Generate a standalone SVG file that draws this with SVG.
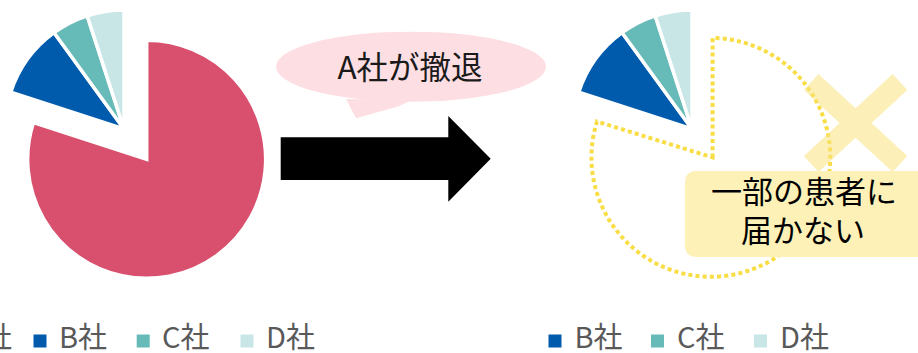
<svg xmlns="http://www.w3.org/2000/svg" width="918" height="353" viewBox="0 0 918 353">
  <style>
    .slice { stroke: #ffffff; stroke-width: 3.5; stroke-linejoin: miter; }
    .a { fill: #D94F6E; }
    .b { fill: #005BAC; }
    .c { fill: #66BBB8; }
    .d { fill: #C8E6E6; }
    .txt { font-family: "Noto Sans CJK JP", "Noto Sans", sans-serif; }
    .legend { font-family: "Noto Sans CJK JP", "Noto Sans", sans-serif; font-size: 29px; fill: #595959; }
    .dots { fill: none; stroke: #F8DD45; stroke-width: 4; stroke-dasharray: 4 3.2; }
  </style>
  <defs>
    <g id="bcd">
      <path class="slice b" d="M0,0 L-113.2,-36.8 A119,119 0 0 1 -69.9,-96.3 Z"/>
      <path class="slice c" d="M0,0 L-69.9,-96.3 A119,119 0 0 1 -36.8,-113.2 Z"/>
      <path class="slice d" d="M0,0 L-36.8,-113.2 A119,119 0 0 1 0,-119 Z"/>
    </g>
  </defs>

  <!-- Left pie chart -->
  <g id="pie-left">
    <path class="slice a" d="M146.7,159.3 L146.7,40.3 A119,119 0 1 1 33.5,122.5 Z"/>
    <use href="#bcd" transform="translate(124,129)"/>
  </g>

  <!-- Speech bubble -->
  <g id="bubble">
    <ellipse cx="411" cy="66.7" rx="135" ry="35" fill="#FDDFE3"/>
    <polygon points="346,99 356,118.3 398,106.5 412,100" fill="#FDDFE3"/>
    <text class="txt" x="410" y="78.5" font-size="31.5" text-anchor="middle" fill="#1a1a1a">A社が撤退</text>
  </g>

  <!-- Arrow -->
  <g id="arrow">
    <polygon points="280.7,137.3 448.3,137.3 448.3,116 490.7,158.7 448.3,201.7 448.3,180 280.7,180" fill="#000000"/>
  </g>

  <!-- Right pie chart -->
  <g id="pie-right">
    <use href="#bcd" transform="translate(692,129)"/>
    <path class="dots" d="M712.6,157.4 L712.6,38 A119.4,119.4 0 1 1 597,121.5 Z"/>
  </g>

  <!-- Cross mark -->
  <g id="cross" opacity="0.55">
    <line x1="811.2" y1="82" x2="900" y2="164" stroke="#FBE37F" stroke-width="21.5"/>
    <line x1="900" y1="82" x2="811.2" y2="164" stroke="#FBE37F" stroke-width="21.5"/>
  </g>

  <!-- Label box -->
  <g id="label">
    <rect x="685" y="171" width="243" height="86" rx="10" ry="10" fill="#FDF1B8"/>
    <text class="txt" x="804" y="203" font-size="31" text-anchor="middle" fill="#000000">一部の患者に</text>
    <text class="txt" x="803" y="242" font-size="31" text-anchor="middle" fill="#000000">届かない</text>
  </g>

  <!-- Left legend -->
  <g id="legend-left">
    <text class="legend" x="12" y="348" text-anchor="end">A社</text>
    <rect x="33.5" y="334.5" width="13" height="13" class="b"/>
    <text class="legend" x="59" y="348">B社</text>
    <rect x="136.7" y="334.5" width="13" height="13" class="c"/>
    <text class="legend" x="162" y="348">C社</text>
    <rect x="240.5" y="334.5" width="13" height="13" class="d"/>
    <text class="legend" x="266" y="348">D社</text>
  </g>

  <!-- Right legend -->
  <g id="legend-right">
    <rect x="548.5" y="334.5" width="13" height="13" class="b"/>
    <text class="legend" x="574.5" y="348">B社</text>
    <rect x="651" y="334.5" width="13" height="13" class="c"/>
    <text class="legend" x="677" y="348">C社</text>
    <rect x="754" y="334.5" width="13" height="13" class="d"/>
    <text class="legend" x="780" y="348">D社</text>
  </g>
</svg>
